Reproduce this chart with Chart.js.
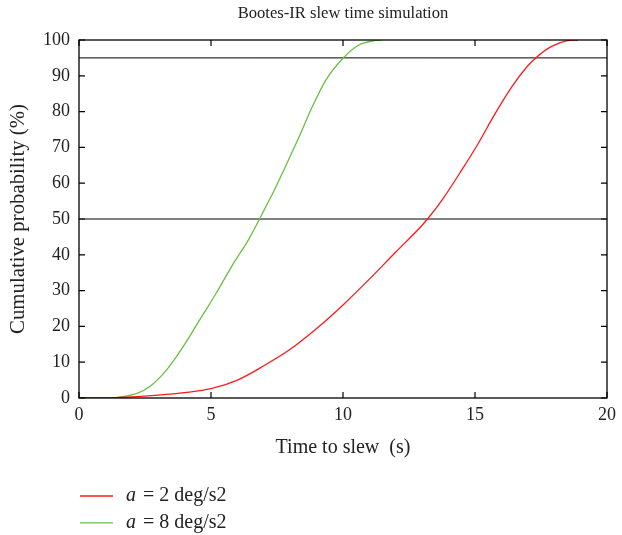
<!DOCTYPE html>
<html>
<head>
<meta charset="utf-8">
<script src="https://cdn.jsdelivr.net/npm/chart.js@4.4.1/dist/chart.umd.min.js"></script>
<style>
  html, body { margin: 0; padding: 0; background: #fff; }
</style>
</head>
<body>
<canvas id="chart" width="622" height="535"></canvas>
<script>
// chart text
const chartTitle = 'Bootes-IR slew time simulation';
const xTitle = 'Time to slew  (s)';
const yTitle = 'Cumulative probability (%)';
const seriesSymbol = 'a';
const seriesNames = ['= 2 deg/s2', '= 8 deg/s2'];

// a = 2 deg/s2 (red)
const timeA2 = [0, 1, 2, 3, 4, 5, 6, 7, 8, 9, 10, 11, 12, 12.9, 13.2, 13.75, 14.5, 15.1, 15.75, 16.4, 17, 17.3, 17.9, 18.5, 18.9];
const probA2 = [0, 0, 0.3, 0.8, 1.5, 2.6, 5.0, 9.0, 13.6, 19.4, 26, 33.2, 40.8, 47.5, 50, 55.3, 63.7, 70.8, 79.3, 87, 92.8, 95, 98.2, 99.8, 100];

// a = 8 deg/s2 (green)
const timeA8 = [0, 1, 1.5, 2.2, 2.68, 3.31, 3.94, 4.57, 5.19, 5.82, 6.45, 6.83, 7.4, 7.8, 8.34, 8.84, 9.35, 10.0, 10.6, 11.2, 11.45];
const probA8 = [0, 0, 0.2, 1.3, 3.2, 7.8, 14.3, 21.8, 29.2, 37.2, 44.6, 49.9, 58.1, 64.3, 73, 81.4, 88.8, 94.9, 98.6, 99.8, 100];

// horizontal reference levels
const refLevels = [50, 95];

// axis ticks
const xTicks = [0, 5, 10, 15, 20];
const yTicks = [0, 10, 20, 30, 40, 50, 60, 70, 80, 90, 100];

const seriesColors = ['#ff1a1a', '#6abf40'];
const serif = '"Liberation Serif", "Times New Roman", serif';

function toPoints(xs, ys) {
  return xs.map((x, i) => ({ x: x, y: ys[i] }));
}

const datasets = [
  {
    label: seriesSymbol + ' ' + seriesNames[0],
    data: toPoints(timeA2, probA2),
    borderColor: seriesColors[0],
    borderWidth: 1.3,
    pointRadius: 0,
    cubicInterpolationMode: 'monotone'
  },
  {
    label: seriesSymbol + ' ' + seriesNames[1],
    data: toPoints(timeA8, probA8),
    borderColor: seriesColors[1],
    borderWidth: 1.3,
    pointRadius: 0,
    cubicInterpolationMode: 'monotone'
  }
];
refLevels.forEach(level => {
  datasets.push({
    label: 'level ' + level,
    data: [{ x: xTicks[0], y: level }, { x: xTicks[xTicks.length - 1], y: level }],
    borderColor: '#000',
    borderWidth: 1,
    pointRadius: 0
  });
});

// frame, inward ticks on all sides, title and legend
const decorations = {
  id: 'decorations',
  afterDraw(chart) {
    const ctx = chart.ctx;
    const area = chart.chartArea;
    const xs = chart.scales.x;
    const ys = chart.scales.y;
    ctx.save();
    ctx.strokeStyle = '#000';
    ctx.lineWidth = 1.3;
    ctx.strokeRect(area.left, area.top, area.right - area.left, area.bottom - area.top);

    ctx.lineWidth = 1.2;
    ctx.beginPath();
    xTicks.forEach(v => {
      const px = xs.getPixelForValue(v);
      ctx.moveTo(px, area.bottom); ctx.lineTo(px, area.bottom - 6);
      ctx.moveTo(px, area.top); ctx.lineTo(px, area.top + 6);
    });
    yTicks.forEach(v => {
      const py = ys.getPixelForValue(v);
      ctx.moveTo(area.left, py); ctx.lineTo(area.left + 6, py);
      ctx.moveTo(area.right, py); ctx.lineTo(area.right - 6, py);
    });
    ctx.stroke();

    // title
    ctx.fillStyle = '#222';
    ctx.font = '16.6px ' + serif;
    ctx.textAlign = 'center';
    ctx.textBaseline = 'middle';
    ctx.fillText(chartTitle, (area.left + area.right) / 2, 14);

    // legend
    ctx.textAlign = 'left';
    for (let i = 0; i < 2; i++) {
      const y = area.bottom + 98 + i * 26.8;
      ctx.strokeStyle = seriesColors[i];
      ctx.lineWidth = 1.3;
      ctx.beginPath();
      ctx.moveTo(area.left + 1, y);
      ctx.lineTo(area.left + 34, y);
      ctx.stroke();
      ctx.font = 'italic 20px ' + serif;
      ctx.fillText(seriesSymbol, area.left + 47, y);
      ctx.font = '20px ' + serif;
      ctx.fillText(seriesNames[i], area.left + 64, y);
    }
    ctx.restore();
  }
};

new Chart(document.getElementById('chart').getContext('2d'), {
  type: 'line',
  data: { datasets: datasets },
  options: {
    responsive: false,
    animation: false,
    layout: { padding: { left: 0, right: 13, top: 40, bottom: 0 } },
    plugins: {
      legend: { display: false },
      title: { display: false },
      tooltip: { enabled: false }
    },
    scales: {
      x: {
        type: 'linear',
        min: 0,
        max: 20,
        afterFit: s => { s.height = 137; },
        afterBuildTicks: s => { s.ticks = xTicks.map(v => ({ value: v })); },
        grid: { display: false, drawTicks: false },
        border: { display: false },
        ticks: { color: '#222', padding: 6, font: { family: serif, size: 18 } },
        title: { display: true, text: xTitle, color: '#222', padding: { top: 0, bottom: 75 }, font: { family: serif, size: 20 } }
      },
      y: {
        type: 'linear',
        min: 0,
        max: 100,
        afterFit: s => { s.width = 79; },
        afterBuildTicks: s => { s.ticks = yTicks.map(v => ({ value: v })); },
        grid: { display: false, drawTicks: false },
        border: { display: false },
        ticks: { color: '#222', padding: 9, font: { family: serif, size: 18 } },
        title: { display: true, text: yTitle, color: '#222', padding: { top: 6, bottom: 0 }, font: { family: serif, size: 20.8 } }
      }
    }
  },
  plugins: [decorations]
});
</script>
</body>
</html>
